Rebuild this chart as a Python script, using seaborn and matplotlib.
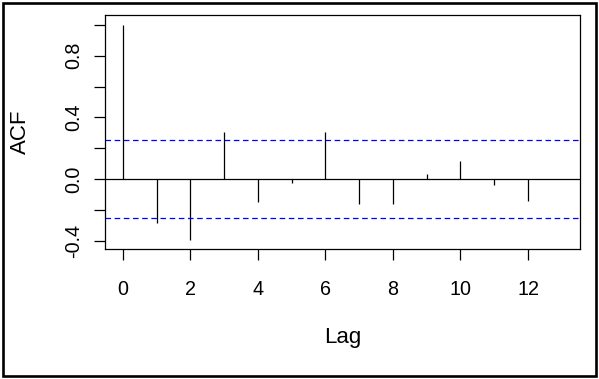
import numpy as np
import pandas as pd
import matplotlib
matplotlib.use("Agg")
import matplotlib.pyplot as plt
import seaborn as sns
from matplotlib.patches import Rectangle

# Data
lags = [0, 1, 2, 3, 4, 5, 6, 7, 8, 9, 10, 11, 12]
acf_values = [1.0, -0.286, -0.395, 0.305, -0.147, -0.026, 0.305, -0.160, -0.160, 0.035, 0.117, -0.037, -0.140]
conf_bound = 0.253
x_ticks = [0, 2, 4, 6, 8, 10, 12]
y_ticks = [-0.4, -0.2, 0.0, 0.2, 0.4, 0.6, 0.8, 1.0]
y_tick_labels = ["-0.4", "", "0.0", "", "0.4", "", "0.8", ""]

df = pd.DataFrame({"Lag": lags, "ACF": acf_values})

sns.set_style("ticks")
plt.rcParams['font.family'] = ['Liberation Sans', 'DejaVu Sans']
plt.rcParams['lines.scale_dashes'] = False
plt.rcParams['text.color'] = 'black'
plt.rcParams['axes.labelcolor'] = 'black'
plt.rcParams['xtick.color'] = 'black'
plt.rcParams['ytick.color'] = 'black'

W, H = 599, 379
fig = plt.figure(figsize=(W / 100, H / 100), dpi=100)
fig.patch.set_facecolor("white")

L, R, T, B = 105, 580, 15, 249
ax = fig.add_axes([L / W, 1 - B / H, (R - L) / W, (B - T) / H])

ax.vlines(df["Lag"], 0, df["ACF"], colors="black", linewidth=0.9)
ax.axhline(0, color="black", linewidth=0.9)
for v in (conf_bound, -conf_bound):
    ax.axhline(v, color="#0000FF", linewidth=0.9, linestyle=(0, (4.0, 2.6)))

ax.set_xlim(-0.53, 13.54)
ax.set_ylim(-0.455, 1.065)
ax.set_xticks(x_ticks)
ax.set_xticklabels([str(t) for t in x_ticks], fontsize=14.2)
ax.set_yticks(y_ticks)
ax.set_yticklabels(y_tick_labels, fontsize=14.2, rotation=90, va="center")

ax.tick_params(axis="both", direction="out", length=8, width=0.9, color="black",
               labelcolor="black", bottom=True, left=True, top=False, right=False)
ax.tick_params(axis="x", pad=14)
ax.tick_params(axis="y", pad=8)
for s in ax.spines.values():
    s.set_visible(True)
    s.set_color("black")
    s.set_linewidth(0.9)

ax.set_xlabel("Lag", fontsize=16, color="black")
ax.set_ylabel("ACF", fontsize=16, color="black")
ax.xaxis.set_label_coords(343 / W, 1 - 338 / H, transform=fig.transFigure)
ax.xaxis.label.set_va("center")
ax.yaxis.set_label_coords(20 / W, 1 - 132 / H, transform=fig.transFigure)
ax.yaxis.label.set_va("center")

# outer frame
fig.patches.append(Rectangle((3.3 / W, 1 - 375.5 / H), (595.8 - 3.3) / W, (375.5 - 3.3) / H,
                             transform=fig.transFigure, fill=False, edgecolor="black",
                             linewidth=1.9))

fig.savefig("out.png", dpi=100)
